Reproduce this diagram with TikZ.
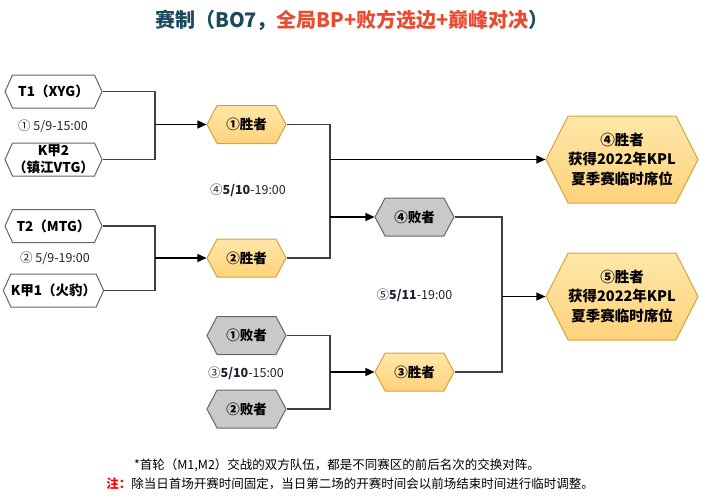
\documentclass[tikz,border=0pt]{standalone}
\usepackage{fontspec}
\setmainfont{Noto Sans CJK SC}
\usetikzlibrary{shapes.symbols,arrows.meta}
\definecolor{titleblue}{HTML}{1B4A5C}
\definecolor{titlered}{HTML}{E84B2F}
\definecolor{linegray}{HTML}{3F3F3F}
\definecolor{boxgray}{HTML}{666666}
\definecolor{orangetop}{HTML}{FFE7A8}
\definecolor{orangebot}{HTML}{FFD27C}
\definecolor{orangeedge}{HTML}{D5A438}
\definecolor{losefill}{HTML}{C9C9C9}
\definecolor{datecol}{HTML}{1E2230}
\tikzset{
  hexbase/.style={signal, signal to=east and west, signal from=nowhere, inner sep=0pt, align=center,
    font=\bfseries\fontsize{13.5}{17}\selectfont, line width=1pt},
  team/.style={hexbase, signal pointer angle=131, minimum width=97, minimum height=33,
    draw=boxgray, fill=white},
  win/.style={hexbase, signal pointer angle=124, minimum width=79, minimum height=38,
    draw=orangeedge, top color=orangetop, bottom color=orangebot},
  lose/.style={hexbase, signal pointer angle=124, minimum width=79, minimum height=38,
    draw=boxgray, fill=losefill},
  final/.style={hexbase, signal pointer angle=126, minimum width=144, minimum height=87,
    draw=orangeedge, top color=orangetop, bottom color=orangebot,
    font=\bfseries\fontsize{14.5}{19.5}\selectfont},
  conn/.style={draw=linegray, line width=1.4pt},
  arr/.style={draw=black, line width=1.5pt, -{Triangle[length=9pt,width=8pt]}},
  datelbl/.style={font=\fontsize{12.5}{14}\selectfont, text=datecol},
  notelbl/.style={font=\fontsize{12.5}{15}\selectfont, text=black}
}
\begin{document}
\begin{tikzpicture}[x=1pt,y=-1pt]
\useasboundingbox (0,0) rectangle (701,498);
% title
\node (title) at (352,20) {\bfseries\fontsize{20}{24}\selectfont\color{titleblue}赛制（BO7，\textcolor{titlered}{全局BP+败方选边+巅峰对决}）};
% teams
\node[team] (t1) at (53.5,91.5) {T1（XYG）};
\node[team] (k2) at (53.5,159.5) {K甲2\\（镇江VTG）};
\node[team] (t2) at (53.5,226) {T2（MTG）};
\node[team] (k1) at (53.5,290.5) {K甲1（火豹）};
\node[datelbl] (d1) at (53,126) {① 5/9-15:00};
\node[datelbl] (d2) at (55,258) {② 5/9-19:00};
% second column
\node[win] (w1) at (246.5,124.5) {①胜者};
\node[win] (w2) at (246.5,258) {②胜者};
\node[lose] (l1) at (246.5,335.5) {①败者};
\node[lose] (l2) at (246.5,409) {②败者};
\node[datelbl] (d4) at (248,190) {④\textbf{5/10}-19:00};
\node[datelbl] (d3) at (246,373) {③\textbf{5/10}-15:00};
% third column
\node[lose] (l4) at (414.5,217) {④败者};
\node[win] (w3) at (414.5,372) {③胜者};
\node[datelbl] (d5) at (414.5,295) {⑤\textbf{5/11}-19:00};
% finals
\node[final] (f4) at (622,159.5) {④胜者\\获得2022年KPL\\夏季赛临时席位};
\node[final] (f5) at (622,296.5) {⑤胜者\\获得2022年KPL\\夏季赛临时席位};
% bracket coordinates
\coordinate (bA) at (155,0);
\coordinate (bB) at (330,0);
\coordinate (bC) at (502,0);
% connectors
\draw[conn] (t1.east) -- (bA |- t1.east) -- (bA |- k2.east) -- (k2.east);
\draw[arr] (bA |- w1.west) -- (w1.west);
\draw[conn] (t2.east) -- (bA |- t2.east) -- (bA |- k1.east) -- (k1.east);
\draw[arr] (bA |- w2.west) -- (w2.west);
\draw[conn] (w1.east) -- (bB |- w1.east) -- (bB |- w2.east) -- (w2.east);
\draw[arr] (bB |- f4.west) -- (f4.west);
\draw[arr] (bB |- l4.west) -- (l4.west);
\draw[conn] (l1.east) -- (bB |- l1.east) -- (bB |- l2.east) -- (l2.east);
\draw[arr] (bB |- w3.west) -- (w3.west);
\draw[conn] (l4.east) -- (bC |- l4.east) -- (bC |- w3.east) -- (w3.east);
\draw[arr] (bC |- f5.west) -- (f5.west);
% notes
\node[notelbl] (n1) at (337,465) {*首轮（M1,M2）交战的双方队伍，都是不同赛区的前后名次的交换对阵。};
\node[notelbl] (n2) at (350,484) {\textcolor{red}{\bfseries 注：}除当日首场开赛时间固定，当日第二场的开赛时间会以前场结束时间进行临时调整。};
\end{tikzpicture}
\end{document}
